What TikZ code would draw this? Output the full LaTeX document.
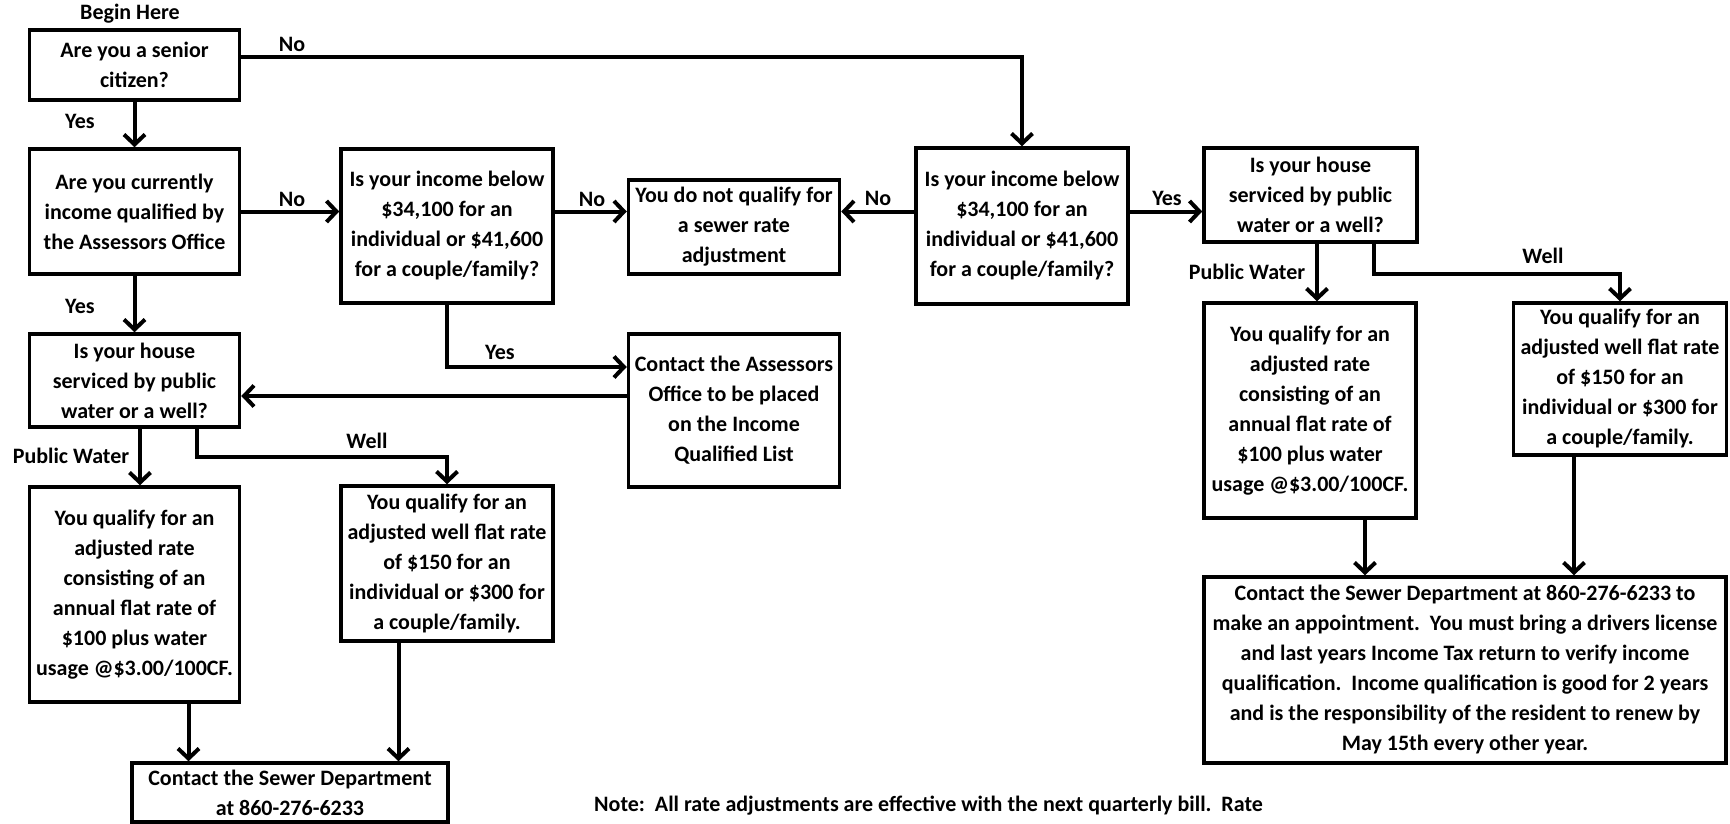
\documentclass[tikz,border=0pt]{standalone}
\usepackage{fontspec}
\setmainfont{Carlito}
\usetikzlibrary{arrows.meta}
\begin{document}
\begin{tikzpicture}[x=1pt,y=-1pt,
  box/.style={draw, line width=3.5pt, inner sep=0pt, align=center,
    font=\fontsize{22}{30}\selectfont\bfseries},
  lbl/.style={inner sep=0pt, font=\fontsize{22}{26}\selectfont\bfseries},
  arr/.style={line width=4pt, -{Straight Barb[length=10pt,width=21pt]}},
  ln/.style={line width=4pt}]
\useasboundingbox (0,0) rectangle (1730,824);
\fill[white] (0,0) rectangle (1730,824);

% boxes
\node[box, minimum width=210pt, minimum height=70pt] (b1) at (134.5,65) {Are you a senior\\citizen?};
\node[box, minimum width=210pt, minimum height=125pt] (b2) at (134.5,211.5) {Are you currently\\income qualified by\\the Assessors Office};
\node[box, minimum width=212pt, minimum height=154pt] (b3) at (447,226) {Is your income below\\\$34,100 for an\\individual or \$41,600\\for a couple/family?};
\node[box, minimum width=211pt, minimum height=94pt] (dnq) at (734,227) {You do not qualify for\\a sewer rate\\adjustment};
\node[box, minimum width=212pt, minimum height=156pt] (b4) at (1022,226) {Is your income below\\\$34,100 for an\\individual or \$41,600\\for a couple/family?};
\node[box, minimum width=213pt, minimum height=94pt] (b5) at (1310.5,195) {Is your house\\serviced by public\\water or a well?};
\node[box, minimum width=212pt, minimum height=215pt] (b6) at (1310,410.5) {You qualify for an\\adjusted rate\\consisting of an\\annual flat rate of\\\$100 plus water\\usage @\$3.00/100CF.};
\node[box, minimum width=213pt, minimum height=152pt] (b7) at (1620,379) {You qualify for an\\adjusted well flat rate\\of \$150 for an\\individual or \$300 for\\a couple/family.};
\node[box, minimum width=522pt, minimum height=186pt] (b8) at (1465,670) {Contact the Sewer Department at 860-276-6233 to\\make an appointment.\ \ You must bring a drivers license\\and last years Income Tax return to verify income\\qualification.\ \ Income qualification is good for 2 years\\and is the responsibility of the resident to renew by\\May 15th every other year.};
\node[box, minimum width=210pt, minimum height=93pt] (b9) at (134.5,380.5) {Is your house\\serviced by public\\water or a well?};
\node[box, minimum width=211pt, minimum height=153pt] (ca) at (734,410.5) {Contact the Assessors\\Office to be placed\\on the Income\\Qualified List};
\node[box, minimum width=210pt, minimum height=215pt] (b10) at (134.5,594.5) {You qualify for an\\adjusted rate\\consisting of an\\annual flat rate of\\\$100 plus water\\usage @\$3.00/100CF.};
\node[box, minimum width=212pt, minimum height=155pt] (b11) at (447,563.5) {You qualify for an\\adjusted well flat rate\\of \$150 for an\\individual or \$300 for\\a couple/family.};
\node[box, minimum width=316pt, minimum height=59pt] (b12) at (290,792.5) {Contact the Sewer Department\\at 860-276-6233};

% labels
\node[lbl] (lbegin) at (130,14) {Begin Here};
\node[lbl] (lno1) at (292,44) {No};
\node[lbl] (lyes1) at (80,121) {Yes};
\node[lbl] (lno2) at (292,199) {No};
\node[lbl] (lno3) at (592,199) {No};
\node[lbl] (lno4) at (878,198) {No};
\node[lbl] (lyes2) at (1167,198) {Yes};
\node[lbl] (lpw1) at (1247,272) {Public Water};
\node[lbl] (lwell1) at (1543,256) {Well};
\node[lbl] (lyes3) at (80,306) {Yes};
\node[lbl] (lyes4) at (500,352) {Yes};
\node[lbl] (lpw2) at (71,456) {Public Water};
\node[lbl] (lwell2) at (367,441) {Well};
\node[lbl, anchor=west] (note) at (594,806) {Note:\ \ All rate adjustments are effective with the next quarterly bill.\ \ Rate};

% connectors
\draw[arr] ([yshift=8pt]b1.east) -| (b4.north);
\draw[arr] (b1) -- (b2);
\draw[arr] (b2.east) -- (b2.east -| b3.west);
\draw[arr] (b2.east -| b3.east) -- (b2.east -| dnq.west);
\draw[arr] (b2.east -| b4.west) -- (b2.east -| dnq.east);
\draw[arr] (b2.east -| b4.east) -- (b2.east -| b5.west);

\coordinate (p1) at ([xshift=6.5pt]b5.south);
\draw[arr] (p1) -- (p1 |- b6.north);
\coordinate (p2) at ([xshift=63.5pt]b5.south);
\draw[arr] (p2) -- ++(0,30) -| (b7.north);
\coordinate (p3) at ([xshift=55pt]b6.south);
\draw[arr] (p3) -- (p3 |- b8.north);
\coordinate (p4) at ([xshift=-46pt]b7.south);
\draw[arr] (p4) -- (p4 |- b8.north);

\draw[arr] (b2) -- (b9);
\draw[arr] (b3.south) |- ([yshift=43.5pt]ca.west);
\coordinate (p5) at ([yshift=14.5pt]ca.west);
\draw[arr] (p5) -- (p5 -| b9.east);
\coordinate (p6) at ([xshift=5.5pt]b9.south);
\draw[arr] (p6) -- (p6 |- b10.north);
\coordinate (p7) at ([xshift=62.5pt]b9.south);
\draw[arr] (p7) -- ++(0,28) -| (b11.north);
\coordinate (p8) at ([xshift=54pt]b10.south);
\draw[arr] (p8) -- (p8 |- b12.north);
\coordinate (p9) at ([xshift=-48.5pt]b11.south);
\draw[arr] (p9) -- (p9 |- b12.north);
\end{tikzpicture}
\end{document}
